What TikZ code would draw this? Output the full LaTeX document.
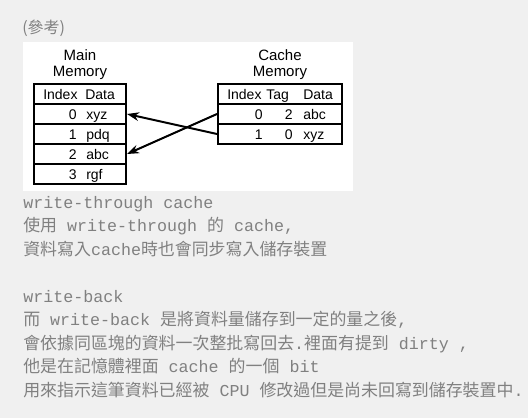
\documentclass[tikz,border=0pt]{standalone}
\usepackage{fontspec}
\setmainfont{Liberation Sans}
\setmonofont{Liberation Mono}
\newfontfamily\cjkfont{Noto Sans CJK TC}
\usetikzlibrary{arrows.meta}
\definecolor{pagebg}{RGB}{240,240,240}
\definecolor{notegray}{RGB}{128,128,128}
\newcommand{\zh}[1]{{\cjkfont\fontsize{12.7}{15}\selectfont #1}}

\begin{document}
\begin{tikzpicture}[x=0.75pt, y=-0.75pt,
    cell/.style={draw, line width=1.5pt, minimum height=15pt, inner sep=0pt},
    mainrow/.style={cell, minimum width=69pt},
    cacherow/.style={cell, minimum width=93pt},
    title/.style={align=center, inner sep=0pt, font=\fontsize{11.25}{12}\selectfont},
    val/.style={inner sep=0pt, font=\fontsize{10.5}{12}\selectfont},
    note/.style={anchor=base west, inner sep=0pt, text=notegray, font=\ttfamily\fontsize{12.5}{15}\selectfont},
    moves/.style={line width=1.5pt, -{Stealth[length=9pt, width=6.5pt]}}]
    \useasboundingbox (0,0) rectangle (528,418);
    \fill[pagebg] (0,0) rectangle (528,418);
    \fill[white] (23,42) rectangle (353,191);
    \node[anchor=base west, inner sep=0pt, text=notegray, font=\cjkfont\fontsize{12}{14}\selectfont] (refnote) at (22,33) {(參考)};

    % main memory
    \node[title, anchor=south] (mmtitle) at (80,80) {Main\\Memory};
    \node[mainrow] (mmhead) at (80,94) {};
    \node[mainrow] (mm0) at (80,114) {};
    \node[mainrow] (mm1) at (80,134) {};
    \node[mainrow] (mm2) at (80,154) {};
    \node[mainrow] (mm3) at (80,174) {};
    \node[val, anchor=base west] (mmidx) at (43,99) {Index};
    \node[val, anchor=base west] (mmdat) at (85,99) {Data};
    \node[val, anchor=base east] (mm0i) at (77,119) {0};
    \node[val, anchor=base west] (mm0d) at (86,119) {xyz};
    \node[val, anchor=base east] (mm1i) at (77,139) {1};
    \node[val, anchor=base west] (mm1d) at (86,139) {pdq};
    \node[val, anchor=base east] (mm2i) at (77,159) {2};
    \node[val, anchor=base west] (mm2d) at (86,159) {abc};
    \node[val, anchor=base east] (mm3i) at (77,179) {3};
    \node[val, anchor=base west] (mm3d) at (86,179) {rgf};

    % cache memory
    \node[title, anchor=south] (chtitle) at (280,80) {Cache\\Memory};
    \node[cacherow] (chhead) at (280,94) {};
    \node[cacherow] (ch0) at (280,114) {};
    \node[cacherow] (ch1) at (280,134) {};
    \node[val, anchor=base west] (chidx) at (227,99) {Index};
    \node[val, anchor=base west] (chtag) at (266,99) {Tag};
    \node[val, anchor=base west] (chdat) at (303,99) {Data};
    \node[val, anchor=base east] (ch0i) at (263,119) {0};
    \node[val, anchor=base east] (ch0t) at (293,119) {2};
    \node[val, anchor=base west] (ch0d) at (303,119) {abc};
    \node[val, anchor=base east] (ch1i) at (263,139) {1};
    \node[val, anchor=base east] (ch1t) at (293,139) {0};
    \node[val, anchor=base west] (ch1d) at (303,139) {xyz};

    \draw[moves] (ch1.west) -- (mm0.east);
    \draw[moves] (ch0.west) -- (mm2.east);

    % notes
    \node[note] (wt) at (23,208) {write-through cache};
    \node[note] (wt1) at (23,231.5) {\zh{使用} write-through \zh{的} cache,};
    \node[note] (wt2) at (23,255) {\zh{資料寫入}cache\zh{時也會同步寫入儲存裝置}};
    \node[note] (wb) at (23,302) {write-back};
    \node[note] (wb1) at (23,325.5) {\zh{而} write-back \zh{是將資料量儲存到一定的量之後},};
    \node[note] (wb2) at (23,349) {\zh{會依據同區塊的資料一次整批寫回去}.\zh{裡面有提到} dirty ,};
    \node[note] (wb3) at (23,372.5) {\zh{他是在記憶體裡面} cache \zh{的一個} bit};
    \node[note] (wb4) at (23,396) {\zh{用來指示這筆資料已經被} CPU \zh{修改過但是尚未回寫到儲存裝置中}.};
\end{tikzpicture}
\end{document}
